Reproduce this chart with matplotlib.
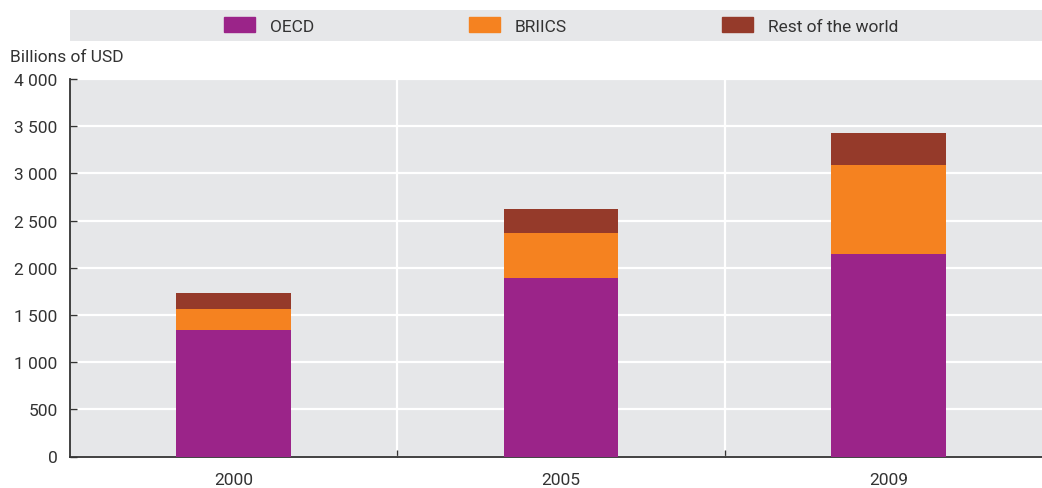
import matplotlib.pyplot as plt
import matplotlib.patches as mpatches
from matplotlib.ticker import FuncFormatter, FixedLocator

# Data
years = ["2000", "2005", "2009"]
oecd = [1340, 1890, 2150]
briics = [220, 475, 940]
rest_world = [170, 255, 340]

colors = ["#9B2489", "#F58220", "#953A2A"]
labels = ["OECD", "BRIICS", "Rest of the world"]
bg = "#E6E7E9"
txt = "#333333"

plt.rcParams['font.family'] = ['Roboto', 'DejaVu Sans']
plt.rcParams['font.size'] = 12.5

W, H = 1042, 489
fig = plt.figure(figsize=(W / 100, H / 100), dpi=100)
ax = fig.add_axes([70 / W, 1 - 457.5 / H, 982 / W, 377.5 / H])
ax.set_facecolor(bg)

x = range(len(years))
bottom2 = [a + b for a, b in zip(oecd, briics)]
ax.bar(x, oecd, width=0.35, color=colors[0], zorder=3)
ax.bar(x, briics, width=0.35, bottom=oecd, color=colors[1], zorder=3)
ax.bar(x, rest_world, width=0.35, bottom=bottom2, color=colors[2], zorder=3)

ax.set_xlim(-0.5, 2.5)
ax.set_ylim(0, 4000)
ax.set_yticks(range(0, 4001, 500))
ax.yaxis.set_major_formatter(FuncFormatter(lambda v, p: f"{int(v):,}".replace(",", " ")))
ax.set_xticks(list(x))
ax.set_xticklabels(years)
ax.xaxis.set_minor_locator(FixedLocator([0.5, 1.5]))

ax.grid(axis='y', color='white', linewidth=1.6, zorder=1)
ax.grid(axis='x', which='minor', color='white', linewidth=1.6, zorder=1)
ax.tick_params(axis='y', direction='in', length=5, width=1, color='#333333', pad=9, labelcolor=txt)
ax.tick_params(axis='x', which='major', length=0, pad=11, labelcolor=txt)
ax.tick_params(axis='x', which='minor', direction='in', length=5, width=1, color='#333333')

for s in ['top', 'right']:
    ax.spines[s].set_visible(False)
for s in ['left', 'bottom']:
    ax.spines[s].set_color('#333333')
    ax.spines[s].set_linewidth(1.3)

fig.text(10 / W, 1 - 58 / H, "Billions of USD", color=txt, va='center', ha='left')

# legend band
fig.patches.append(mpatches.Rectangle((70 / W, 1 - 42 / H), 972 / W, 31 / H,
                                      transform=fig.transFigure, facecolor=bg, edgecolor='none', zorder=0))
handles = [mpatches.Patch(color=c) for c in colors]
fig.legend(handles, labels, loc='center', bbox_to_anchor=(561 / W, 1 - 26.5 / H), ncol=3,
           frameon=False, handlelength=1.8, handleheight=0.9, handletextpad=0.85,
           columnspacing=8.9, labelcolor=txt)

fig.savefig("out.png", dpi=100)
